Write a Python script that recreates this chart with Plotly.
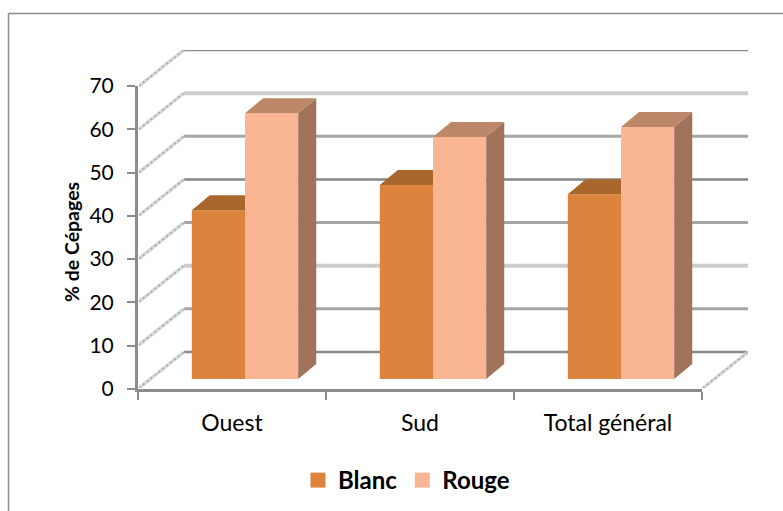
import plotly.graph_objects as go

W, H = 783, 511
categories = ["Ouest", "Sud", "Total général"]
blanc = [39.0, 44.8, 42.7]
rouge = [61.4, 55.9, 58.2]
y_ticks = [0, 10, 20, 30, 40, 50, 60, 70]
grid_colors = ["#8a8a8a", "#a6a6a6", "#cccccc", "#a6a6a6", "#868686", "#a6a6a6", "#cccccc", "#8a8a8a"]
grid_widths = [2.5, 3, 4, 3, 2.5, 3, 4, 2.5]

C_BLANC = "#dc843d"
C_BLANC_TOP = "#a9662d"
C_ROUGE = "#fab592"
C_ROUGE_TOP = "#bc8869"
C_ROUGE_SIDE = "#a0735a"
AXIS = "#8c8c8c"
TXT = "#000000"
FONT = "Lato"


def xd(a, b):
    return [a / W, b / W]


def yd(top, bottom):
    return [1 - bottom / H, 1 - top / H]


BAR_W = 0.283
DX_BAR, DY_BAR = 18 / 187.7, 15 / 4.33   # depth of a bar in axis units
DX_WALL, DY_WALL = 45 / 188, 36 / 4.314  # depth of the side wall in axis units

fig = go.Figure()

# back wall gridlines (first subplot, underneath the bars)
for v, c, w in zip(y_ticks, grid_colors, grid_widths):
    fig.add_trace(go.Scatter(x=[-0.5, 2.5], y=[v, v], mode="lines", xaxis="x", yaxis="y",
                             line=dict(color=c, width=w), showlegend=False, hoverinfo="skip",
                             cliponaxis=False))
# side wall and floor edge
wall_x, wall_y = [], []
for v in y_ticks:
    wall_x += [-0.5 - DX_WALL, -0.5, None]
    wall_y += [v - DY_WALL, v, None]
wall_x += [2.5 - DX_WALL, 2.5]
wall_y += [-DY_WALL, 0]
fig.add_trace(go.Scatter(x=wall_x, y=wall_y, mode="lines", xaxis="x", yaxis="y",
                         line=dict(color="#d8d8d8", width=3.5), showlegend=False,
                         hoverinfo="skip", cliponaxis=False))
fig.add_trace(go.Scatter(x=wall_x, y=wall_y, mode="lines", xaxis="x", yaxis="y",
                         line=dict(color="#a8a8a8", width=1.5, dash="2px,3px"), showlegend=False,
                         hoverinfo="skip", cliponaxis=False))

# front faces
idx = list(range(len(categories)))
fig.add_trace(go.Bar(x=idx, y=blanc, width=BAR_W, offset=-BAR_W, xaxis="x2", yaxis="y2",
                     marker=dict(color=C_BLANC, line=dict(width=0)), showlegend=False, name="Blanc"))
fig.add_trace(go.Bar(x=idx, y=rouge, width=BAR_W, offset=0, xaxis="x2", yaxis="y2",
                     marker=dict(color=C_ROUGE, line=dict(width=0)), showlegend=False, name="Rouge"))


def poly(px, py, color):
    fig.add_trace(go.Scatter(x=px, y=py, mode="lines", fill="toself", fillcolor=color,
                             line=dict(width=0, color=color), xaxis="x2", yaxis="y2",
                             showlegend=False, hoverinfo="skip", cliponaxis=False))


for i in idx:
    b, r = blanc[i], rouge[i]
    # the part of the white top that is not hidden by the taller red bar
    poly([i - BAR_W, i - BAR_W + DX_BAR, i, i], [b, b + DY_BAR, b + DY_BAR, b], C_BLANC_TOP)
    # red top and side
    poly([i, i + DX_BAR, i + BAR_W + DX_BAR, i + BAR_W], [r, r + DY_BAR, r + DY_BAR, r], C_ROUGE_TOP)
    poly([i + BAR_W, i + BAR_W + DX_BAR, i + BAR_W + DX_BAR, i + BAR_W],
         [r, r + DY_BAR, DY_BAR, 0], C_ROUGE_SIDE)

# legend entries
for name, color in [("Blanc", C_BLANC), ("Rouge", C_ROUGE)]:
    fig.add_trace(go.Scatter(x=[None], y=[None], mode="markers", name=name, xaxis="x2", yaxis="y2",
                             marker=dict(symbol="square", size=15, color=color)))

# category axis that carries the labels
fig.add_trace(go.Scatter(x=categories, y=[0, 0, 0], mode="lines", line=dict(width=0), xaxis="x3", yaxis="y3",
                         showlegend=False, hoverinfo="skip"))

fig.update_layout(
    width=W, height=H, margin=dict(l=0, r=0, t=0, b=0, autoexpand=False), paper_bgcolor="white",
    plot_bgcolor="rgba(0,0,0,0)",
    font=dict(family=FONT, color=TXT),
    barmode="overlay",
    showlegend=True,
    legend=dict(orientation="h", x=298 / W, y=1 - 458 / H, xanchor="left", yanchor="top",
                font=dict(size=24, family=FONT, weight="bold", color=TXT), itemsizing="trace",
                bgcolor="rgba(0,0,0,0)"),
    # back wall and side wall
    xaxis=dict(domain=xd(184 - 45, 748), range=[-0.5 - DX_WALL, 2.5], visible=False, anchor="y"),
    yaxis=dict(domain=yd(50, 352 + 36), range=[-DY_WALL, 70], visible=False, anchor="x"),
    # plane of the bars
    xaxis2=dict(domain=xd(151, 715), range=[-0.5, 2.5], visible=False, anchor="y2"),
    yaxis2=dict(domain=yd(76, 379), range=[0, 70], visible=False, anchor="x2"),
    # front axes
    xaxis3=dict(domain=xd(138, 702), type="category", categoryorder="array", categoryarray=categories,
                range=[-0.5, 2.5], tickson="boundaries", ticks="outside", ticklen=8, tickwidth=1.5,
                tickcolor=AXIS, showline=True, linecolor=AXIS, linewidth=3, showgrid=False, zeroline=False,
                tickfont=dict(size=23, family=FONT, color=TXT), ticklabelstandoff=11, anchor="y3", automargin=False),
    yaxis3=dict(domain=yd(86, 389), range=[0, 70], tickmode="array", tickvals=y_ticks,
                ticks="outside", ticklen=8, tickwidth=1.5, tickcolor=AXIS, showline=True,
                linecolor=AXIS, linewidth=3, showgrid=False, zeroline=False,
                tickfont=dict(size=21, family=FONT, color=TXT), anchor="x3", ticklabelstandoff=9, automargin=False),
    annotations=[dict(text="<b>% de Cépages</b>", textangle=-90, xref="paper", yref="paper",
                      x=71 / W, y=1 - 242 / H, xanchor="center", yanchor="middle", showarrow=False,
                      font=dict(size=19.5, family=FONT, color=TXT))],
    shapes=[dict(type="line", xref="paper", yref="paper", x0=8.5 / W, x1=1, y0=1 - 13.5 / H, y1=1 - 13.5 / H,
                 line=dict(color="#8c8c8c", width=1.5), layer="below"),
            dict(type="line", xref="paper", yref="paper", x0=8.5 / W, x1=8.5 / W, y0=0, y1=1 - 13.5 / H,
                 line=dict(color="#8c8c8c", width=1.5), layer="below")],
)

fig.write_html("out.html", config=dict(displayModeBar=False),
               post_script="document.body.style.margin='0';")
